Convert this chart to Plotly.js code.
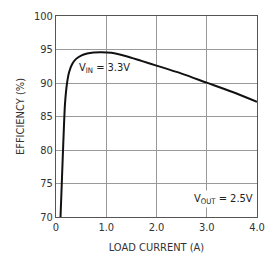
<!DOCTYPE html>
<html><head><meta charset="utf-8">
<script src="https://cdn.plot.ly/plotly-3.0.1.min.js"></script>
<style>body{margin:0;background:#fff}#c{width:278px;height:266px}</style>
</head><body><div id="c"></div>
<script>
var loadCurrent = [0.09, 0.12, 0.15, 0.18, 0.22, 0.26, 0.32, 0.4, 0.5, 0.62, 0.75, 0.9, 1.1, 1.4, 1.7, 2.0, 2.5, 3.0, 3.5, 4.0];
var efficiency  = [70, 76, 82, 87, 90, 91.6, 92.8, 93.6, 94.1, 94.4, 94.55, 94.6, 94.5, 94.0, 93.3, 92.6, 91.4, 90.05, 88.7, 87.2];
var xTicks = [0, 1, 2, 3, 4];
var xTickLabels = ["0", "1.0", "2.0", "3.0", "4.0"];
var yTicks = [70, 75, 80, 85, 90, 95, 100];

var fnt = "DejaVu Sans Condensed, Liberation Sans Narrow, Liberation Sans, sans-serif";
Plotly.newPlot('c', [{
  x: loadCurrent, y: efficiency, type: 'scatter', mode: 'lines',
  line: {color: '#111', width: 2, shape: 'spline', smoothing: 0.8},
  hoverinfo: 'skip'
}], {
  width: 278, height: 266,
  margin: {l: 56, r: 21, t: 16, b: 49},
  paper_bgcolor: '#fff', plot_bgcolor: '#fff',
  showlegend: false,
  font: {family: fnt, size: 11, color: '#333'},
  xaxis: {range: [0, 4], tickvals: xTicks, ticktext: xTickLabels,
    showgrid: true, gridcolor: '#999', gridwidth: 1, zeroline: false,
    showline: true, linecolor: '#555', linewidth: 1, mirror: true, ticks: '',
    tickfont: {size: 11, color: '#333'},
    title: {text: 'LOAD CURRENT (A)', font: {size: 11, color: '#333'}, standoff: 10}},
  yaxis: {range: [70, 100], tickvals: yTicks,
    showgrid: true, gridcolor: '#999', gridwidth: 1, zeroline: false,
    showline: true, linecolor: '#555', linewidth: 1, mirror: true, ticks: '',
    tickfont: {size: 11, color: '#333'},
    title: {text: 'EFFICIENCY (%)', font: {size: 11, color: '#333'}, standoff: 7}},
  annotations: [
    {x: 0.97, y: 92.3, xref: 'x', yref: 'y', text: 'V<sub>IN</sub> = 3.3V', showarrow: false,
     font: {size: 11, color: '#222', family: fnt}},
    {x: 3.96, y: 71.3, xref: 'x', yref: 'y', xanchor: 'right', yanchor: 'bottom',
     text: 'V<sub>OUT</sub> = 2.5V', showarrow: false, bgcolor: '#fff',
     font: {size: 11, color: '#222', family: fnt}}
  ]
}, {staticPlot: true, displayModeBar: false});
</script></body></html>
